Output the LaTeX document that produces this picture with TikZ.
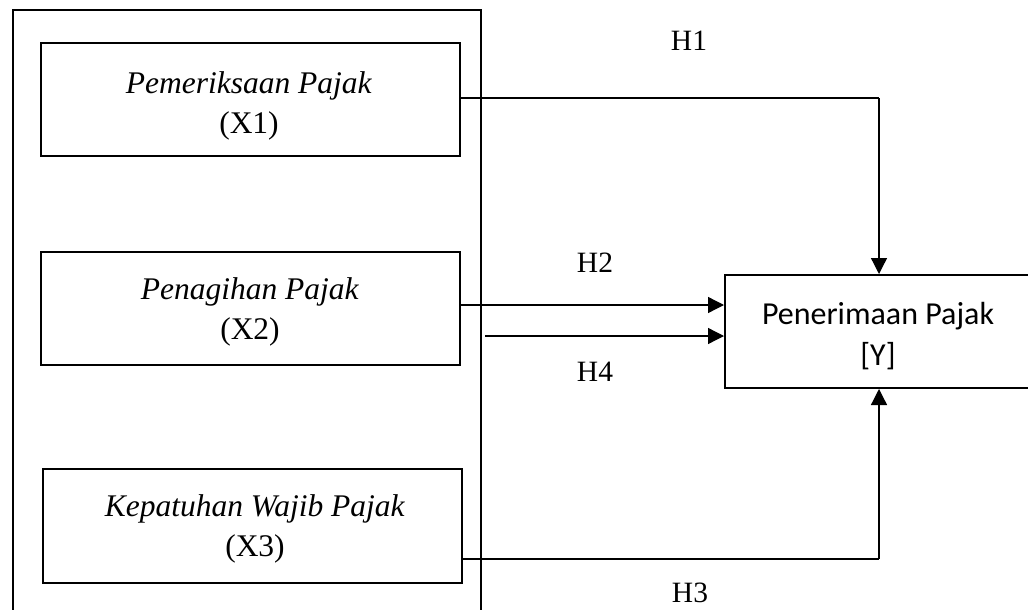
\documentclass[tikz,border=0pt]{standalone}
\usepackage{fontspec}
\setmainfont{Liberation Serif}
\newfontfamily\calfont{Carlito}
\usetikzlibrary{arrows.meta}
\begin{document}
\begin{tikzpicture}[x=1pt,y=-1pt,
  varbox/.style={draw,line width=2pt,inner sep=0pt},
  boxtext/.style={inner sep=0pt,align=center,font=\fontsize{31.5}{40}\selectfont},
  conn/.style={line width=1.3pt,-{Triangle[length=16pt,width=16pt]}},
  lbl/.style={inner sep=0pt,font=\fontsize{29.5}{34}\selectfont}]
\useasboundingbox (0,0) rectangle (1028,610);
% outer group frame (open at bottom of page)
\node[draw,line width=2.7pt,minimum width=468pt,minimum height=620pt,inner sep=0pt] (grp) at (247,320) {};
\node[varbox,minimum width=419pt,minimum height=113pt] (x1) at (250.5,99.5) {};
\node[boxtext] (x1t) at (249,106) {\textit{Pemeriksaan Pajak}\\(X1)};
\node[varbox,minimum width=419pt,minimum height=113pt] (x2) at (250.5,308.5) {};
\node[boxtext] (x2t) at (250,312) {\textit{Penagihan Pajak}\\(X2)};
\node[varbox,minimum width=419pt,minimum height=114pt] (x3) at (252.5,526) {};
\node[boxtext] (x3t) at (255,529) {\textit{Kepatuhan Wajib Pajak}\\(X3)};
\node[varbox,minimum width=320pt,minimum height=113pt] (y) at (885,331.5) {};
\node[boxtext,font=\calfont\fontsize{32}{41}\selectfont] (yt) at (878,336) {Penerimaan Pajak\\{[Y]}};
% connectors
\coordinate (h1c) at (879,98);
\coordinate (h3c) at (879,559);
\coordinate (h4s) at (485,336);
\draw[line width=1.3pt] (x1.east |- 0,98) -- (h1c);
\draw[conn] (h1c) -- (h1c |- y.north);
\draw[conn] (x2.east |- 0,305) -- (y.west |- 0,305);
\draw[conn] (h4s) -- (y.west |- h4s);
\draw[line width=1.3pt] (x3.east |- 0,559) -- (h3c);
\draw[conn] (h3c) -- (h3c |- y.south);
% labels
\node[lbl] (lh1) at (689,41) {H1};
\node[lbl] (lh2) at (595,263) {H2};
\node[lbl] (lh4) at (595,372) {H4};
\node[lbl] (lh3) at (690,593) {H3};
\end{tikzpicture}
\end{document}
